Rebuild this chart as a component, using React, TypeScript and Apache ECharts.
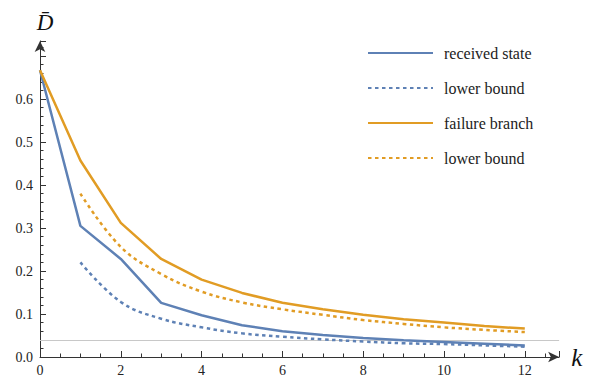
import React, { useEffect, useRef } from "react";
import * as echarts from "echarts";

// ---- data ----
const kValues = [0, 1, 2, 3, 4, 5, 6, 7, 8, 9, 10, 11, 12];
const kBoundValues = [1, 2, 3, 4, 5, 6, 7, 8, 9, 10, 11, 12];
const receivedState = [0.667, 0.305, 0.228, 0.126, 0.097, 0.074, 0.06, 0.051, 0.044, 0.039, 0.035, 0.031, 0.027];
const receivedLowerBound = [0.22, 0.128, 0.089, 0.069, 0.055, 0.047, 0.041, 0.036, 0.032, 0.03, 0.027, 0.024];
const failureBranch = [0.667, 0.457, 0.312, 0.228, 0.18, 0.149, 0.126, 0.111, 0.098, 0.088, 0.08, 0.072, 0.066];
const failureLowerBound = [0.38, 0.256, 0.193, 0.152, 0.127, 0.111, 0.098, 0.086, 0.077, 0.069, 0.063, 0.058];
const referenceLevel = 0.038;

// ---- ticks / labels ----
const X_TICK_STEP = 2;
const X_LABEL_END = 12;
const Y_TICK_STEP = 0.1;
const Y_LABEL_END = 0.6;

const seriesNames = ["received state", "lower bound (received)", "failure branch", "lower bound (failure)"];

// ---- layout ----
const W = 602;
const H = 390;
const ORIGIN_X = 40;
const ORIGIN_Y = 357;
const PX_PER_K = 40.4;
const PX_PER_D = 430;
const ARROW_X_END = 12.85; // axis end (arrow centre)
const ARROW_Y_END = 0.735;

const BLUE = "#5E81B5";
const ORANGE = "#E19C24";
const AXIS = "#333";
const FONT = "'Liberation Serif', 'DejaVu Serif', serif";

const pairs = (xs: number[], ys: number[]) => xs.map((x, i) => [x, ys[i]]);

export default function App() {
  const ref = useRef<HTMLDivElement>(null);
  useEffect(() => {
    document.body.style.margin = "0";
    if (!ref.current) return;
    const chart = echarts.init(ref.current, null, { renderer: "svg" });
    const bottom = H - ORIGIN_Y;
    const isMult = (v: number, step: number) => Math.abs(v / step - Math.round(v / step)) < 1e-6;

    const dataSeries = (name: string, xs: number[], ys: number[], color: string, dotted: boolean, z: number) => ({
      name,
      type: "line",
      xAxisIndex: 0,
      yAxisIndex: 0,
      data: pairs(xs, ys),
      symbol: "none",
      smooth: dotted ? 0.4 : false,
      color,
      lineStyle: { color, width: 2.5, type: dotted ? [3.5, 3.5] : "solid" },
      z,
    });

    chart.setOption({
      animation: false,
      backgroundColor: "#fff",
      grid: [{ left: ORIGIN_X, bottom, width: ARROW_X_END * PX_PER_K, height: ARROW_Y_END * PX_PER_D }],
      legend: {
        orient: "vertical",
        left: 367,
        top: 45,
        padding: 0,
        itemWidth: 65,
        itemHeight: 14,
        itemGap: 19,
        data: seriesNames,
        itemStyle: { opacity: 0 },
        formatter: (n: string) => (n.startsWith("lower bound") ? "lower bound" : n),
        textStyle: { fontFamily: FONT, fontSize: 16, color: "#222", padding: [0, 0, 0, 6] },
      },
      xAxis: {
        type: "value",
        min: 0,
        max: ARROW_X_END,
        interval: X_TICK_STEP,
        name: "k",
        nameLocation: "end",
        nameGap: 12,
        nameTextStyle: { fontFamily: FONT, fontStyle: "italic", fontSize: 25, color: "#111", verticalAlign: "middle", align: "left" },
        axisLine: { show: true, symbol: ["none", "arrow"], symbolSize: [8, 11], lineStyle: { color: AXIS, width: 1 } },
        axisTick: { show: true, inside: true, length: 6, lineStyle: { color: AXIS, width: 1 } },
        minorTick: { show: true, splitNumber: 4, length: 3.5, lineStyle: { color: AXIS, width: 1 } },
        axisLabel: {
          show: true,
          formatter: (v: number) => (isMult(v, X_TICK_STEP) && v <= X_LABEL_END ? String(v) : ""),
          fontFamily: FONT,
          fontSize: 14,
          color: "#222",
          margin: 6,
        },
        splitLine: { show: false },
      },
      yAxis: {
        type: "value",
        min: 0,
        max: ARROW_Y_END,
        interval: Y_TICK_STEP,
        name: "D\u0304",
        nameLocation: "end",
        nameGap: 7,
        nameTextStyle: { fontFamily: FONT, fontStyle: "italic", fontSize: 23, color: "#111", align: "center", padding: [0, 0, 0, 10] },
        axisLine: { show: true, symbol: ["none", "arrow"], symbolSize: [8, 11], lineStyle: { color: AXIS, width: 1 } },
        axisTick: { show: true, inside: true, length: 6, lineStyle: { color: AXIS, width: 1 } },
        minorTick: { show: true, splitNumber: 5, length: 3.5, lineStyle: { color: AXIS, width: 1 } },
        axisLabel: {
          show: true,
          formatter: (v: number) => (isMult(v, Y_TICK_STEP) && v <= Y_LABEL_END + 1e-9 ? v.toFixed(1) : ""),
          fontFamily: FONT,
          fontSize: 14,
          color: "#222",
          margin: 7,
        },
        splitLine: { show: false },
      },
      series: [
        {
          ...dataSeries(seriesNames[0], kValues, receivedState, BLUE, false, 3),
          markLine: {
            silent: true,
            symbol: "none",
            label: { show: false },
            lineStyle: { color: "#c8c8c8", width: 1, type: "solid" },
            data: [{ yAxis: referenceLevel }],
            z: 1,
          },
        },
        dataSeries(seriesNames[1], kBoundValues, receivedLowerBound, BLUE, true, 3),
        dataSeries(seriesNames[2], kValues, failureBranch, ORANGE, false, 4),
        dataSeries(seriesNames[3], kBoundValues, failureLowerBound, ORANGE, true, 4),
      ],
    });
    return () => chart.dispose();
  }, []);
  return <div ref={ref} style={{ width: W, height: H }} />;
}
